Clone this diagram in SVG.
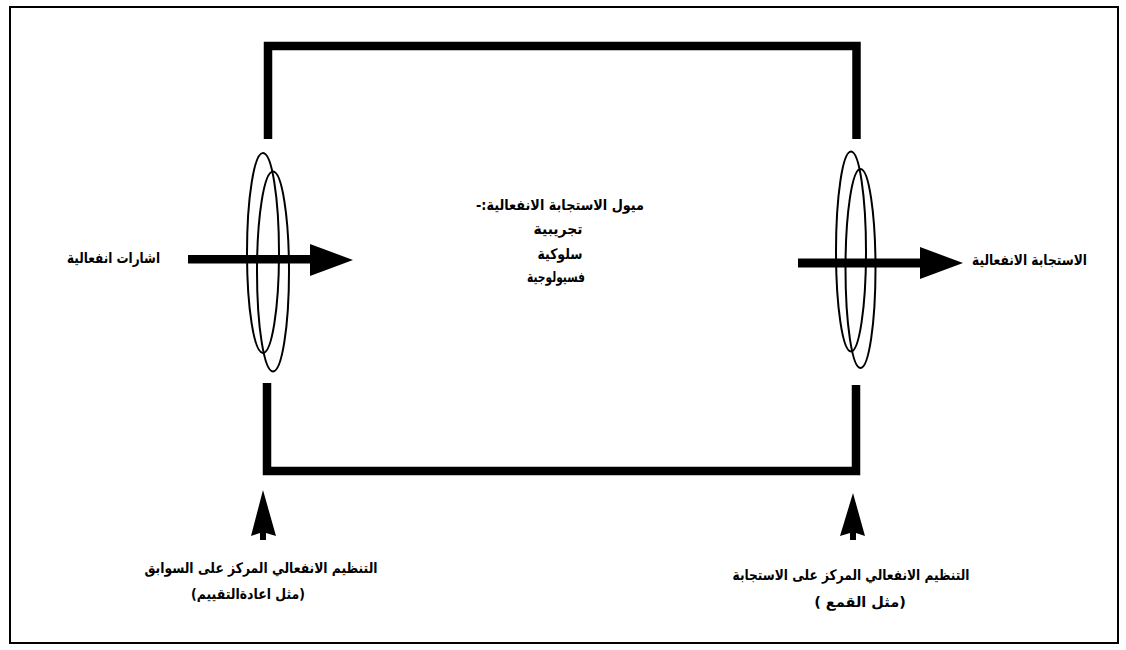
<svg xmlns="http://www.w3.org/2000/svg" width="1126" height="650" viewBox="0 0 1126 650">
<style>
.t{font-family:"DejaVu Sans","Noto Sans",sans-serif;font-weight:bold;font-size:14.5px;fill:#000;text-anchor:middle;direction:rtl}
.box{fill:none;stroke:#000;stroke-width:8.5;stroke-linejoin:miter;stroke-linecap:butt}
.ring{fill:none;stroke:#000;stroke-width:2}
.solid{fill:#000;stroke:none}
</style>
<rect x="0" y="0" width="1126" height="650" fill="#fff"/>
<rect id="frame" x="10" y="7" width="1108" height="636" fill="none" stroke="#000" stroke-width="2"/>
<g id="box">
<path class="box" d="M268,139 V46 H856.5 V139"/>
<path class="box" d="M267,383 V471 H856 V385"/>
</g>
<g id="left-rings">
<ellipse class="ring" cx="263" cy="253" rx="16" ry="100"/>
<ellipse class="ring" cx="273" cy="271.5" rx="16" ry="100"/>
</g>
<g id="right-rings">
<ellipse class="ring" cx="851" cy="251.5" rx="15" ry="100"/>
<ellipse class="ring" cx="860.5" cy="268.5" rx="15" ry="99.5"/>
</g>
<g id="connectors">
<rect class="solid" x="188" y="255" width="124" height="8.5"/>
<polygon class="solid" points="310,244 353,260 310,276"/>
<rect class="solid" x="798" y="258.5" width="124" height="9"/>
<polygon class="solid" points="920,247 963,263 920,279"/>
<polygon class="solid" points="263,490 276,536 266,533 266,540 260,540 260,533 251,536"/>
<polygon class="solid" points="853,493 865,536 856,533 856,540 850,540 850,533 840,536"/>
</g>
<g id="input-label"><text class="t" x="113.5" y="263" textLength="93" lengthAdjust="spacingAndGlyphs">اشارات انفعالية</text></g>
<g id="output-label"><text class="t" x="1029.5" y="265" textLength="115" lengthAdjust="spacingAndGlyphs">الاستجابة الانفعالية</text></g>
<g id="tendencies">
<text class="t" x="560" y="210" textLength="168" lengthAdjust="spacingAndGlyphs">ميول الاستجابة الانفعالية:-</text>
<text class="t" x="558" y="234" textLength="49" lengthAdjust="spacingAndGlyphs">تجريبية</text>
<text class="t" x="560" y="259" textLength="45" lengthAdjust="spacingAndGlyphs">سلوكية</text>
<text class="t" x="556" y="282" textLength="58" lengthAdjust="spacingAndGlyphs">فسيولوجية</text>
</g>
<g id="antecedent-label">
<text class="t" x="261" y="573" textLength="233" lengthAdjust="spacingAndGlyphs">التنظيم الانفعالي المركز على السوابق</text>
<text class="t" x="248" y="599" textLength="114" lengthAdjust="spacingAndGlyphs">(مثل اعادةالتقييم)</text>
</g>
<g id="response-label">
<text class="t" x="851" y="580" textLength="237" lengthAdjust="spacingAndGlyphs">التنظيم الانفعالي المركز على الاستجابة</text>
<text class="t" x="860" y="607">(مثل القمع )&#x200F;</text>
</g>
</svg>
